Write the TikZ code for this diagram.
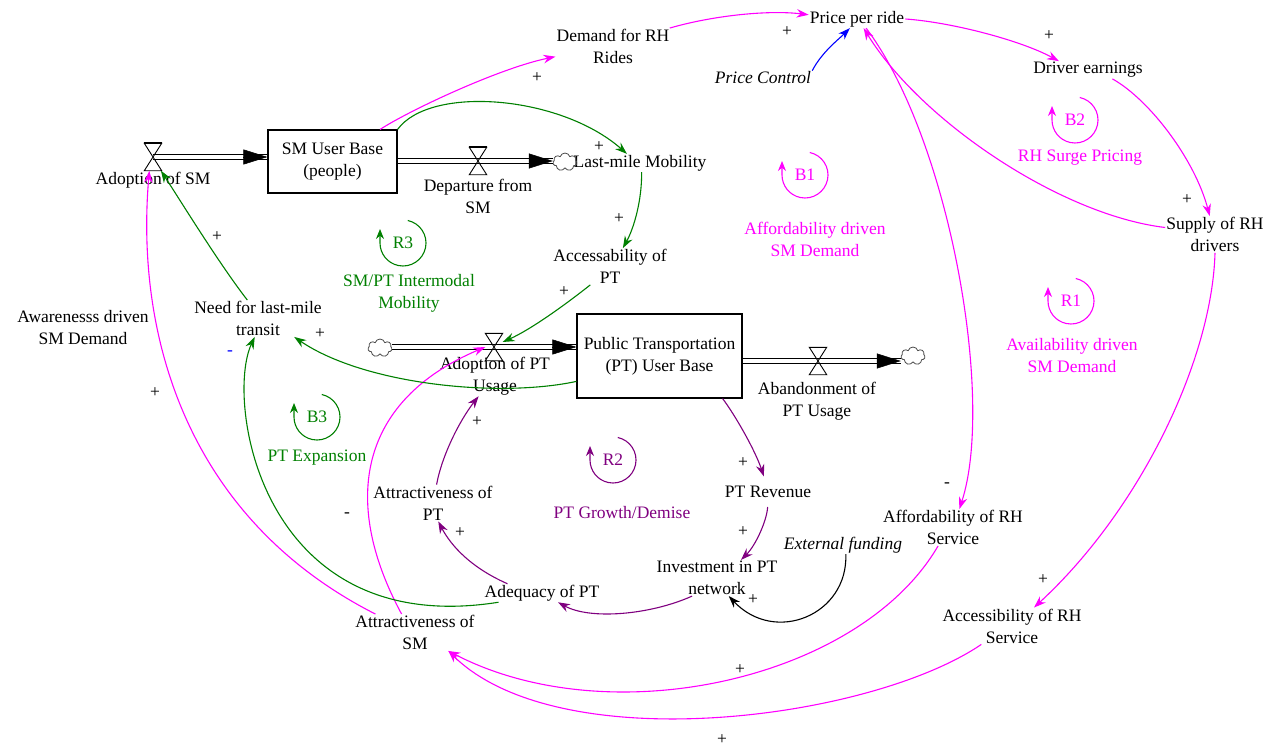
\documentclass[tikz,border=0pt]{standalone}
\usepackage{fontspec}
\setmainfont{Liberation Serif}
\usetikzlibrary{arrows.meta,shapes.symbols}
\definecolor{vmag}{RGB}{255,0,255}
\definecolor{vgreen}{RGB}{0,128,0}
\definecolor{vpurple}{RGB}{128,0,128}
\definecolor{vblue}{RGB}{0,0,255}
\newcommand\loopsym[4]{%
  \node[var, text=#1] (#2) at #3 {#4};
  \draw[#1, line width=1.1pt, -{Stealth[length=10pt,width=8pt]}] (#2.center) ++(78:23pt)
    arc[start angle=78, end angle=-180, radius=23pt] -- ++(0,-14);
}
\newcommand\valvesym[2]{%
  \node[valve] (#1) at #2 {};
  \draw[line width=0.9pt] (#1.north west) -- (#1.north east) -- (#1.south west) -- (#1.south east) -- cycle;
  \draw[line width=1.6pt] (#1.north west) -- (#1.north east);
}
\begin{document}
\begin{tikzpicture}[x=1pt,y=-1pt,
  var/.style={font=\fontsize{17.5}{22}\selectfont, align=center, inner sep=1pt},
  ivar/.style={var, font=\fontsize{17.5}{22}\selectfont\itshape},
  stock/.style={var, draw, line width=1.1pt, inner sep=0pt},
  sgn/.style={font=\fontsize{17.5}{22}\selectfont, inner sep=0pt},
  lnk/.style={line width=1.1pt, -{Stealth[length=12pt,width=8.5pt]}},
  pipe/.style={double, double distance=3.5pt, line width=1.1pt},
  flowtip/.style={line width=0.5pt, -{Triangle[length=24pt,width=15pt]}},
  valve/.style={inner sep=0pt, minimum width=17pt, minimum height=27pt},
  cld/.style={cloud, cloud puffs=7, aspect=1.3, draw=black!70, line width=0.8pt,
    minimum width=24pt, minimum height=18pt, inner sep=0pt}]
\fill[white] (0,0) rectangle (1277,749);
\useasboundingbox (0,0) rectangle (1277,749);

% variables
\node[var] (dem) at (613,46.5) {Demand for RH\\Rides};
\node[var] (price) at (857,19) {Price per ride};
\node[ivar] (pc) at (763,78) {Price Control};
\node[var] (drv) at (1088,70) {Driver earnings};
\node[stock, minimum width=129pt, minimum height=63pt] (smbox) at (332.5,161.5) {SM User Base\\(people)};
\node[var] (adsm) at (153,180) {Adoption of SM};
\node[var] (dep) at (478,196.5) {Departure from\\SM};
\node[var] (lmm) at (640,163) {Last-mile Mobility};
\node[var] (acc) at (610,266.5) {Accessability of\\PT};
\node[var] (need) at (258,318.5) {Need for last-mile\\transit};
\node[var] (aware) at (83,328) {Awarenesss driven\\SM Demand};
\node[var] (supply) at (1215,234.5) {Supply of RH\\drivers};
\node[var] (adpt) at (495,376) {Adoption of PT\\Usage};
\node[stock, minimum width=165pt, minimum height=84pt] (ptbox) at (659.5,356) {Public Transportation\\(PT) User Base};
\node[var] (aband) at (817,401) {Abandonment of\\PT Usage};
\node[var] (rev) at (768,492) {PT Revenue};
\node[var] (attpt) at (433,503) {Attractiveness of\\PT};
\node[var] (inv) at (717,578) {Investment in PT\\network};
\node[ivar] (ext) at (843,545) {External funding};
\node[var] (afford) at (953,527.5) {Affordability of RH\\Service};
\node[var] (adeq) at (542,593) {Adequacy of PT};
\node[var] (attsm) at (415,632.5) {Attractiveness of\\SM};
\node[var] (accrh) at (1012,626) {Accessibility of RH\\Service};

% loop labels
\node[var, text=vgreen] (lR3) at (409,293.5) {SM/PT Intermodal\\Mobility};
\node[var, text=vmag] (lB1) at (815,239.5) {Affordability driven\\SM Demand};
\node[var, text=vmag] (lB2) at (1080,158) {RH Surge Pricing};
\node[var, text=vmag] (lR1) at (1072,356) {Availability driven\\SM Demand};
\node[var, text=vgreen] (lB3) at (317,458) {PT Expansion};
\node[var, text=vpurple] (lR2) at (622,513) {PT Growth/Demise};

\loopsym{vgreen}{R3}{(403,243)}{R3}
\loopsym{vmag}{B1}{(805,175)}{B1}
\loopsym{vmag}{B2}{(1075,120)}{B2}
\loopsym{vmag}{R1}{(1071,301)}{R1}
\loopsym{vgreen}{B3}{(317,417)}{B3}
\loopsym{vpurple}{R2}{(613,460)}{R2}

% clouds and valves
\node[cld] (cDep) at (565,162) {};
\node[cld] (cPT) at (380,348) {};
\node[cld] (cAb) at (913,356) {};
\coordinate (vSMc) at (153,157);
\coordinate (vDepc) at (478,161);
\coordinate (vPTc) at (494,347);
\coordinate (vAbc) at (818,361);

% flows
\coordinate (f1e) at (smbox.west |- vSMc);
\draw[pipe] (vSMc) -- (f1e);
\draw[flowtip] ([xshift=-24pt]f1e) -- (f1e);
\coordinate (f2s) at (smbox.east |- vDepc);
\coordinate (f2e) at (cDep.west |- vDepc);
\draw[pipe] (f2s) -- (f2e);
\draw[flowtip] ([xshift=-24pt]f2e) -- (f2e);
\coordinate (f3s) at (cPT.east |- vPTc);
\coordinate (f3e) at (ptbox.west |- vPTc);
\draw[pipe] (f3s) -- (f3e);
\draw[flowtip] ([xshift=-24pt]f3e) -- (f3e);
\coordinate (f4s) at (ptbox.east |- vAbc);
\coordinate (f4e) at (cAb.west |- vAbc);
\draw[pipe] (f4s) -- (f4e);
\draw[flowtip] ([xshift=-24pt]f4e) -- (f4e);
\valvesym{vSM}{(vSMc)}
\valvesym{vDep}{(vDepc)}
\valvesym{vPT}{(vPTc)}
\valvesym{vAb}{(vAbc)}

% causal links
\draw[lnk, vmag] (smbox.34) .. controls (410,110) and (500,68) .. (dem.190);
\draw[lnk, vmag] (dem.18) .. controls (715,15) and (770,10) .. (price.175);
\draw[lnk, vblue] (pc.north east) .. controls (822,52) and (838,40) .. (price.232);
\draw[lnk, vmag] (price.east) .. controls (950,22) and (1020,40) .. (drv.163);
\draw[lnk, vmag] (drv.-20) .. controls (1150,100) and (1195,160) .. (supply.106);
\draw[lnk, vmag] (supply.172) .. controls (1060,215) and (920,120) .. (price.-54);
\draw[lnk, vmag] (price.-45) .. controls (950,140) and (995,400) .. (afford.71);
\draw[lnk, vmag] (supply.south) .. controls (1212,360) and (1140,510) .. (accrh.40);
\draw[lnk, vmag] (afford.231) .. controls (860,680) and (610,735) .. (attsm.-29);
\draw[lnk, vmag] (accrh.211) .. controls (870,720) and (560,760) .. (attsm.-29);
\draw[lnk, vmag] (attsm.155) .. controls (190,520) and (135,340) .. (vSM.-105);
\draw[lnk, vmag] (attsm.126) .. controls (340,500) and (360,400) .. (vPT.west);
\draw[lnk, vgreen] (need.120) .. controls (220,265) and (180,200) .. (vSM.-60);
\draw[lnk, vgreen] (ptbox.197) .. controls (500,398) and (365,385) .. (need.-27);
\draw[lnk, vgreen] (smbox.north east) .. controls (430,85) and (560,95) .. (lmm.145);
\draw[lnk, vgreen] (lmm.-80) .. controls (642,200) and (634,228) .. (acc.55);
\draw[lnk, vgreen] (acc.223) .. controls (565,305) and (530,330) .. (vPT.30);
\draw[lnk, vgreen] (adeq.192) .. controls (260,640) and (225,400) .. (need.-100);
\draw[lnk, vpurple] (adeq.165) .. controls (465,565) and (448,540) .. (attpt.-74);
\draw[lnk, vpurple] (attpt.79) .. controls (442,455) and (460,420) .. (adpt.231);
\draw[lnk, vpurple, shorten >=9pt] (ptbox.-34) .. controls (735,415) and (755,450) .. (rev.100);
\draw[lnk, vpurple, shorten <=8pt] (rev.south) .. controls (767,520) and (756,545) .. (inv.37);
\draw[lnk, vpurple] (inv.216) .. controls (650,615) and (590,620) .. (adeq.-30);
\draw[lnk, black] (ext.-73) .. controls (848,615) and (775,645) .. (inv.-57);

% polarity signs
\node[sgn] (s1) at (537,78) {+};
\node[sgn] (s2) at (787,32) {+};
\node[sgn] (s3) at (1049,36) {+};
\node[sgn] (s4) at (1187,200) {+};
\node[sgn] (s5) at (947,485) {-};
\node[sgn] (s6) at (1043,580) {+};
\node[sgn] (s7) at (740,670) {+};
\node[sgn] (s8) at (722,740) {+};
\node[sgn] (s9) at (155,393) {+};
\node[sgn] (s10) at (347,515) {-};
\node[sgn] (s11) at (217,237) {+};
\node[sgn] (s12) at (320,334) {+};
\node[sgn] (s13) at (599,147) {+};
\node[sgn] (s14) at (619,219) {+};
\node[sgn] (s15) at (564,292) {+};
\node[sgn] (s16) at (460,533) {+};
\node[sgn] (s17) at (477,422) {+};
\node[sgn] (s18) at (743,463) {+};
\node[sgn] (s19) at (743,532) {+};
\node[sgn] (s20) at (753,600) {+};
\node[sgn, text=vblue] (s21) at (230,353) {-};
\end{tikzpicture}
\end{document}
